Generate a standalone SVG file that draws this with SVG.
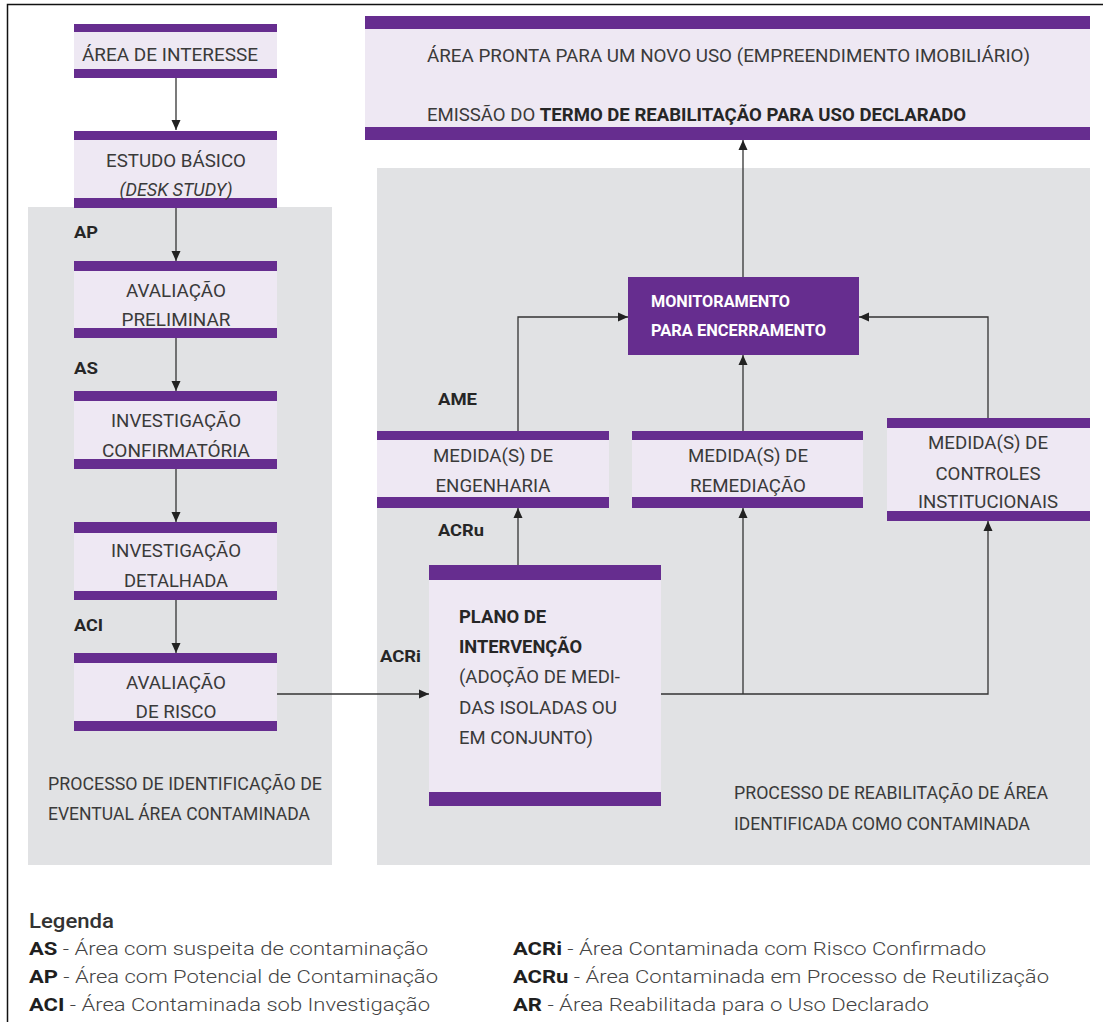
<svg xmlns="http://www.w3.org/2000/svg" width="1103" height="1022" viewBox="0 0 1103 1022">
<defs>
<style>
.bg{fill:#ffffff}
.panel{fill:#e1e2e4}
.body{fill:#eee8f3}
.bar{fill:#662d8f}
.mon{fill:#662d8f}
text{font-family:Roboto,"Liberation Sans",sans-serif;fill:#3a3a3a}
.t{font-size:18px;text-anchor:middle}
.tl{font-size:18px}
.b{font-weight:bold;fill:#262626}
.w{fill:#ffffff;font-weight:bold;font-size:16px}
.lab{font-size:17px;font-weight:bold;fill:#262626}
.leg{font-size:19px;font-weight:300;fill:#444}
.legb{font-weight:bold;fill:#1f1f1f}
.c{fill:none;stroke:#333;stroke-width:1.3}
</style>
<marker id="ah" viewBox="0 0 10 10" refX="10" refY="5" markerWidth="10" markerHeight="10" markerUnits="userSpaceOnUse" orient="auto">
<path d="M0,0.5 L10,5 L0,9.5 z" fill="#222"/>
</marker>
</defs>
<rect class="bg" x="0" y="0" width="1103" height="1022"/>
<path d="M7.5,1022 V4.5 H1103" fill="none" stroke="#111" stroke-width="1.5"/>

<g id="panel-left">
<rect class="panel" x="28" y="207" width="304" height="658"/>
<text class="tl" x="48" y="790" textLength="274" lengthAdjust="spacingAndGlyphs">PROCESSO DE IDENTIFICAÇÃO DE</text>
<text class="tl" x="48" y="820" textLength="262" lengthAdjust="spacingAndGlyphs">EVENTUAL ÁREA CONTAMINADA</text>
</g>
<g id="panel-right">
<rect class="panel" x="377" y="168" width="713" height="697"/>
<text class="tl" x="734" y="799" textLength="314" lengthAdjust="spacingAndGlyphs">PROCESSO DE REABILITAÇÃO DE ÁREA</text>
<text class="tl" x="734" y="830" textLength="296" lengthAdjust="spacingAndGlyphs">IDENTIFICADA COMO CONTAMINADA</text>
</g>

<g id="connectors">
<path class="c" d="M176,78 V130" marker-end="url(#ah)"/>
<path class="c" d="M176,208 V261" marker-end="url(#ah)"/>
<path class="c" d="M176,338 V391" marker-end="url(#ah)"/>
<path class="c" d="M176,469 V522" marker-end="url(#ah)"/>
<path class="c" d="M176,600 V653" marker-end="url(#ah)"/>
<path class="c" d="M277,694 H429" marker-end="url(#ah)"/>
<path class="c" d="M518,565 V508" marker-end="url(#ah)"/>
<path class="c" d="M661,694 H988 V521" marker-end="url(#ah)"/>
<path class="c" d="M743,694 V508" marker-end="url(#ah)"/>
<path class="c" d="M518,431 V317 H628" marker-end="url(#ah)"/>
<path class="c" d="M988,418 V317 H859" marker-end="url(#ah)"/>
<path class="c" d="M743,431 V355" marker-end="url(#ah)"/>
<path class="c" d="M743,277 V140" marker-end="url(#ah)"/>
</g>

<g id="labels">
<text class="lab" x="74" y="238" textLength="24" lengthAdjust="spacingAndGlyphs">AP</text>
<text class="lab" x="74" y="374" textLength="24" lengthAdjust="spacingAndGlyphs">AS</text>
<text class="lab" x="74" y="631" textLength="29" lengthAdjust="spacingAndGlyphs">ACI</text>
<text class="lab" x="438" y="405" textLength="39" lengthAdjust="spacingAndGlyphs">AME</text>
<text class="lab" x="438" y="536" textLength="46" lengthAdjust="spacingAndGlyphs">ACRu</text>
<text class="lab" x="380" y="662" textLength="41" lengthAdjust="spacingAndGlyphs">ACRi</text>
</g>

<g id="area-interesse">
<rect class="body" x="74" y="24" width="203" height="54"/>
<rect class="bar" x="74" y="24" width="203" height="8"/>
<rect class="bar" x="74" y="69" width="203" height="9"/>
<text class="t" x="170" y="61" textLength="176" lengthAdjust="spacingAndGlyphs">ÁREA DE INTERESSE</text>
</g>
<g id="estudo-basico">
<rect class="body" x="74" y="131" width="203" height="77"/>
<rect class="bar" x="74" y="131" width="203" height="9"/>
<rect class="bar" x="74" y="198" width="203" height="10"/>
<text class="t" x="176" y="167" textLength="140" lengthAdjust="spacingAndGlyphs">ESTUDO BÁSICO</text>
<text class="t" x="176" y="196" font-style="italic" textLength="113" lengthAdjust="spacingAndGlyphs">(DESK STUDY)</text>
</g>
<g id="avaliacao-preliminar">
<rect class="body" x="74" y="261" width="203" height="77"/>
<rect class="bar" x="74" y="261" width="203" height="10"/>
<rect class="bar" x="74" y="328" width="203" height="10"/>
<text class="t" x="176" y="297" textLength="100" lengthAdjust="spacingAndGlyphs">AVALIAÇÃO</text>
<text class="t" x="176" y="326" textLength="109" lengthAdjust="spacingAndGlyphs">PRELIMINAR</text>
</g>
<g id="investigacao-confirmatoria">
<rect class="body" x="74" y="391" width="203" height="78"/>
<rect class="bar" x="74" y="391" width="203" height="10"/>
<rect class="bar" x="74" y="459" width="203" height="10"/>
<text class="t" x="176" y="427" textLength="130" lengthAdjust="spacingAndGlyphs">INVESTIGAÇÃO</text>
<text class="t" x="176" y="457" textLength="148" lengthAdjust="spacingAndGlyphs">CONFIRMATÓRIA</text>
</g>
<g id="investigacao-detalhada">
<rect class="body" x="74" y="522" width="203" height="78"/>
<rect class="bar" x="74" y="522" width="203" height="11"/>
<rect class="bar" x="74" y="591" width="203" height="9"/>
<text class="t" x="176" y="557" textLength="130" lengthAdjust="spacingAndGlyphs">INVESTIGAÇÃO</text>
<text class="t" x="176" y="587" textLength="104" lengthAdjust="spacingAndGlyphs">DETALHADA</text>
</g>
<g id="avaliacao-risco">
<rect class="body" x="74" y="653" width="203" height="78"/>
<rect class="bar" x="74" y="653" width="203" height="10"/>
<rect class="bar" x="74" y="721" width="203" height="10"/>
<text class="t" x="176" y="689" textLength="100" lengthAdjust="spacingAndGlyphs">AVALIAÇÃO</text>
<text class="t" x="176" y="718" textLength="81" lengthAdjust="spacingAndGlyphs">DE RISCO</text>
</g>

<g id="area-pronta">
<rect class="body" x="365" y="16" width="725" height="124"/>
<rect class="bar" x="365" y="16" width="725" height="13"/>
<rect class="bar" x="365" y="127" width="725" height="13"/>
<text class="tl" x="427" y="62" textLength="603" lengthAdjust="spacingAndGlyphs">ÁREA PRONTA PARA UM NOVO USO (EMPREENDIMENTO IMOBILIÁRIO)</text>
<text class="tl" x="427" y="121" textLength="539" lengthAdjust="spacingAndGlyphs">EMISSÃO DO <tspan class="b">TERMO DE REABILITAÇÃO PARA USO DECLARADO</tspan></text>
</g>

<g id="monitoramento">
<rect class="mon" x="628" y="277" width="231" height="78"/>
<text class="w" x="651" y="307" textLength="139" lengthAdjust="spacingAndGlyphs">MONITORAMENTO</text>
<text class="w" x="651" y="336" textLength="175" lengthAdjust="spacingAndGlyphs">PARA ENCERRAMENTO</text>
</g>

<g id="medidas-engenharia">
<rect class="body" x="377" y="431" width="232" height="77"/>
<rect class="bar" x="377" y="431" width="232" height="9"/>
<rect class="bar" x="377" y="497" width="232" height="11"/>
<text class="t" x="493" y="462" textLength="120" lengthAdjust="spacingAndGlyphs">MEDIDA(S) DE</text>
<text class="t" x="493" y="492" textLength="115" lengthAdjust="spacingAndGlyphs">ENGENHARIA</text>
</g>
<g id="medidas-remediacao">
<rect class="body" x="632" y="431" width="231" height="77"/>
<rect class="bar" x="632" y="431" width="231" height="9"/>
<rect class="bar" x="632" y="497" width="231" height="11"/>
<text class="t" x="748" y="462" textLength="120" lengthAdjust="spacingAndGlyphs">MEDIDA(S) DE</text>
<text class="t" x="748" y="492" textLength="116" lengthAdjust="spacingAndGlyphs">REMEDIAÇÃO</text>
</g>
<g id="medidas-controles">
<rect class="body" x="887" y="418" width="203" height="103"/>
<rect class="bar" x="887" y="418" width="203" height="10"/>
<rect class="bar" x="887" y="511" width="203" height="10"/>
<text class="t" x="988" y="449" textLength="120" lengthAdjust="spacingAndGlyphs">MEDIDA(S) DE</text>
<text class="t" x="988" y="480" textLength="105" lengthAdjust="spacingAndGlyphs">CONTROLES</text>
<text class="t" x="988" y="508" textLength="140" lengthAdjust="spacingAndGlyphs">INSTITUCIONAIS</text>
</g>

<g id="plano-intervencao">
<rect class="body" x="429" y="565" width="232" height="241"/>
<rect class="bar" x="429" y="565" width="232" height="15"/>
<rect class="bar" x="429" y="792" width="232" height="14"/>
<text class="tl b" x="459" y="623" textLength="87" lengthAdjust="spacingAndGlyphs">PLANO DE</text>
<text class="tl b" x="459" y="653" textLength="123" lengthAdjust="spacingAndGlyphs">INTERVENÇÃO</text>
<text class="tl" x="459" y="683" textLength="161" lengthAdjust="spacingAndGlyphs">(ADOÇÃO DE MEDI-</text>
<text class="tl" x="459" y="714" textLength="158" lengthAdjust="spacingAndGlyphs">DAS ISOLADAS OU</text>
<text class="tl" x="459" y="744" textLength="134" lengthAdjust="spacingAndGlyphs">EM CONJUNTO)</text>
</g>

<g id="legenda">
<text class="leg" x="29" y="928" textLength="85" lengthAdjust="spacingAndGlyphs" style="font-size:20px;font-weight:500;fill:#333">Legenda</text>
<text class="leg" x="29" y="955" textLength="399" lengthAdjust="spacingAndGlyphs"><tspan class="legb">AS</tspan> - Área com suspeita de contaminação</text>
<text class="leg" x="29" y="983" textLength="409" lengthAdjust="spacingAndGlyphs"><tspan class="legb">AP</tspan> - Área com Potencial de Contaminação</text>
<text class="leg" x="29" y="1011" textLength="401" lengthAdjust="spacingAndGlyphs"><tspan class="legb">ACI</tspan> - Área Contaminada sob Investigação</text>
<text class="leg" x="513" y="955" textLength="473" lengthAdjust="spacingAndGlyphs"><tspan class="legb">ACRi</tspan> - Área Contaminada com Risco Confirmado</text>
<text class="leg" x="513" y="983" textLength="536" lengthAdjust="spacingAndGlyphs"><tspan class="legb">ACRu</tspan> - Área Contaminada em Processo de Reutilização</text>
<text class="leg" x="513" y="1011" textLength="416" lengthAdjust="spacingAndGlyphs"><tspan class="legb">AR</tspan> - Área Reabilitada para o Uso Declarado</text>
</g>
</svg>
